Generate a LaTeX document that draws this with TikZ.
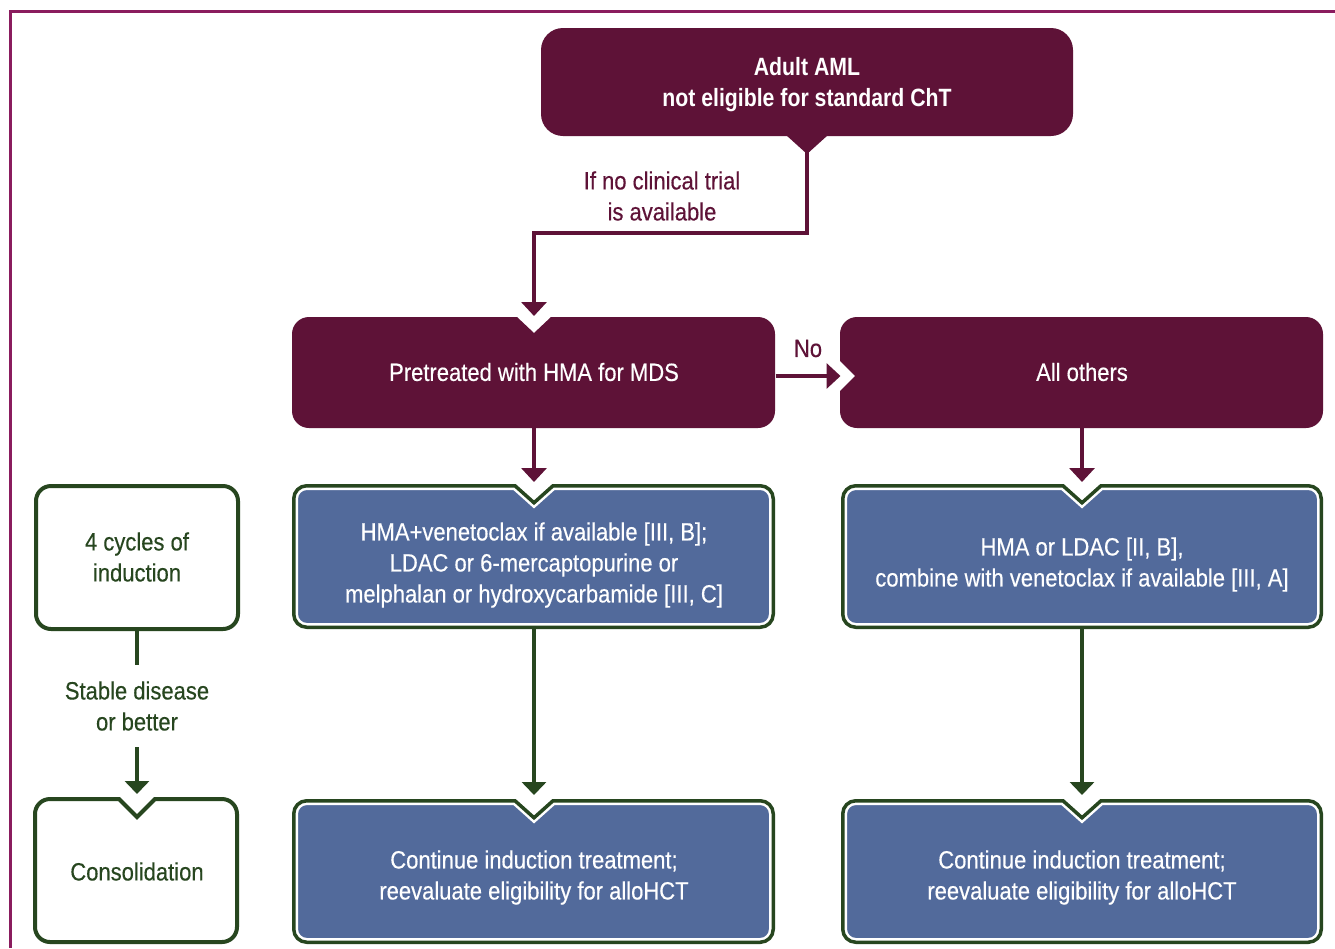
\documentclass[tikz,border=0pt]{standalone}
\usepackage{fontspec}
\setmainfont{Liberation Sans}[FakeStretch=0.88,FakeBold=0.35]
\newfontfamily\topfont{Liberation Sans}[FakeStretch=0.85]
\usetikzlibrary{arrows.meta}
\definecolor{maroon}{HTML}{5E1237}
\definecolor{boxblue}{HTML}{526A9B}
\definecolor{dgreen}{HTML}{27461F}
\definecolor{framec}{HTML}{8A1C5E}
% rounded box with a V notch in its top side
\newcommand\setpath[8]{\def\curpath{({#1},{-(#2+#5)}) arc[start angle=180,end angle=90,radius=#5pt] -- ({#6-#7},{-#2}) -- ({#6},{-(#2+#8)}) -- ({#6+#7},{-#2}) -- ({#3-#5},{-#2}) arc[start angle=90,end angle=0,radius=#5pt] -- ({#3},{-(#4-#5)}) arc[start angle=0,end angle=-90,radius=#5pt] -- ({#1+#5},{-#4}) arc[start angle=270,end angle=180,radius=#5pt] -- cycle}}
\newcommand\greenblue{\begin{scope}\clip \curpath; \fill[boxblue] \curpath; \draw[white,line width=8.5pt] \curpath; \end{scope}\draw[dgreen,line width=3.5pt,line join=miter] \curpath;}
\newcommand\greenwhite{\fill[white] \curpath; \draw[dgreen,line width=4pt] \curpath;}
\tikzset{
  txt/.style={inner sep=0pt, outer sep=0pt, align=center, font=\fontsize{25}{31}\selectfont},
  wtxt/.style={txt, text=white},
  mtxt/.style={txt, text=maroon},
  gtxt/.style={txt, text=dgreen},
  boxarea/.style={inner sep=0pt, outer sep=0pt, draw=none, fill=none},
  mline/.style={draw=maroon, line width=3.6pt},
  marr/.style={mline, -{Triangle[width=25pt,length=14pt]}},
  gline/.style={draw=dgreen, line width=4pt},
  garr/.style={gline, -{Triangle[width=24pt,length=13pt]}},
}
\begin{document}
\begin{tikzpicture}[x=1pt,y=1pt]
\useasboundingbox (0,0) rectangle (1335,-948);
\fill[white] (0,0) rectangle (1335,-948);
% frame
\draw[framec, line width=3pt] (10.5,-948) -- (10.5,-11.3) -- (1335,-11.3);

% top box
\fill[maroon, rounded corners=22pt] (541,-28) rectangle (1073,-136);
\fill[maroon] (786,-135) -- (807,-154) -- (828,-135) -- cycle;
\node[boxarea, minimum width=532pt, minimum height=108pt] (T) at (807,-82) {};
\node[wtxt, font=\fontsize{25}{31}\topfont\bfseries] (Ttxt) at (807,-84.5) {Adult AML\\not eligible for standard ChT};

% Pretreated box
\setpath{292}{317}{775}{428}{17}{534}{17}{16}
\fill[maroon] \curpath;
\node[boxarea, minimum width=483pt, minimum height=111pt] (P) at (534,-372.5) {};
\node[wtxt] (Ptxt) at (534,-372) {Pretreated with HMA for MDS};

% All others box (notch on the left)
\fill[maroon] (857,-317) -- (1306,-317) arc[start angle=90,end angle=0,radius=17pt] -- (1323,-411) arc[start angle=0,end angle=-90,radius=17pt] -- (857,-428) arc[start angle=270,end angle=180,radius=17pt] -- (840,-391) -- (855,-376) -- (840,-361) -- (840,-334) arc[start angle=180,end angle=90,radius=17pt] -- cycle;
\node[boxarea, minimum width=483pt, minimum height=111pt] (A) at (1082,-372.5) {};
\node[wtxt] (Atxt) at (1082,-372) {All others};

% blue boxes
\setpath{293.75}{485.75}{773.25}{627.25}{13}{534}{19}{17}
\greenblue
\node[boxarea, minimum width=483pt, minimum height=145pt] (B1) at (534,-556.5) {};
\node[wtxt] (B1txt) at (534,-565) {HMA+venetoclax if available [III, B];\\LDAC or 6-mercaptopurine or\\melphalan or hydroxycarbamide [III, C]};

\setpath{842.75}{485.75}{1321.25}{627.25}{13}{1082}{19}{17}
\greenblue
\node[boxarea, minimum width=482pt, minimum height=145pt] (B2) at (1082,-556.5) {};
\node[wtxt] (B2txt) at (1082,-564.5) {HMA or LDAC [II, B],\\combine with venetoclax if available [III, A]};

\setpath{293.75}{800.75}{773.25}{942.25}{13}{534}{19}{17}
\greenblue
\node[boxarea, minimum width=483pt, minimum height=145pt] (C1) at (534,-871.5) {};
\node[wtxt] (C1txt) at (534,-877.5) {Continue induction treatment;\\reevaluate eligibility for alloHCT};

\setpath{842.75}{800.75}{1321.25}{942.25}{13}{1082}{19}{17}
\greenblue
\node[boxarea, minimum width=482pt, minimum height=145pt] (C2) at (1082,-871.5) {};
\node[wtxt] (C2txt) at (1082,-877.5) {Continue induction treatment;\\reevaluate eligibility for alloHCT};

% left column
\setpath{36}{486}{238}{629}{15}{137}{0}{0}
\greenwhite
\node[boxarea, minimum width=206pt, minimum height=147pt] (L1) at (137,-557.5) {};
\node[gtxt] (L1txt) at (137,-557) {4 cycles of\\induction};

\setpath{35}{799}{237}{942}{15}{137}{18}{18}
\greenwhite
\node[boxarea, minimum width=206pt, minimum height=147pt] (C0) at (137,-870.5) {};
\node[gtxt] (C0txt) at (137,-871.5) {Consolidation};

\node[gtxt, minimum height=82pt] (SD) at (137,-706) {Stable disease\\or better};

% labels
\node[mtxt] (lab1) at (662,-196) {If no clinical trial\\is available};
\node[mtxt] (labNo) at (808,-348.5) {No};

% connectors
\coordinate (Tbend) at (534,-233);
\draw[marr] (T.south) |- (Tbend) -- ([yshift=1pt]P.north);
\draw[marr] ([yshift=-3.5pt]P.east) -- ([yshift=-3.5pt]A.west);
\draw[marr] (P.south) -- ([yshift=2pt]B1.north);
\draw[marr] (A.south) -- ([yshift=2pt]B2.north);
\draw[garr] (B1.south) -- ([yshift=4pt]C1.north);
\draw[garr] (B2.south) -- ([yshift=4pt]C2.north);
\draw[gline] (L1.south) -- (SD.north);
\draw[garr] (SD.south) -- ([yshift=3pt]C0.north);
\end{tikzpicture}
\end{document}
